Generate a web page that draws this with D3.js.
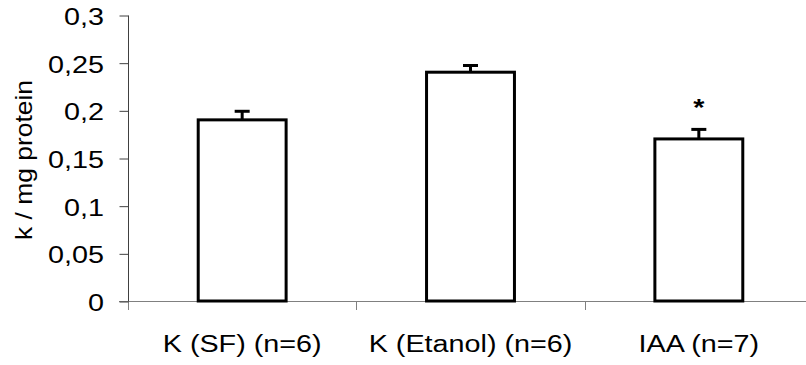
<!DOCTYPE html>
<html>
<head>
<meta charset="utf-8">
<script src="https://cdn.jsdelivr.net/npm/d3@7"></script>
<style>
  html, body { margin: 0; padding: 0; background: #fff; }
  svg { display: block; font-family: "Liberation Sans", Arial, sans-serif; }
</style>
</head>
<body>
<svg id="chart" width="806" height="365"></svg>
<script>
// data
const categories = ['K (SF) (n=6)', 'K (Etanol) (n=6)', 'IAA (n=7)'];
const means = [0.19, 0.24, 0.17];
const errors = [0.009, 0.007, 0.01];
const marks = ['', '', '*'];
const yTicks = [0, 0.05, 0.1, 0.15, 0.2, 0.25, 0.3];
const yTickLabels = ['0', '0,05', '0,1', '0,15', '0,2', '0,25', '0,3'];
const yTitle = 'k / mg protein';

const svg = d3.select('#chart');
const plot = { left: 128, right: 813, top: 15, bottom: 301 };
const stretch = 1.25; // text in the original is a bit wide

const x = d3.scaleBand()
  .domain(categories)
  .range([plot.left, plot.right])
  .paddingInner(0.615)
  .paddingOuter(0.3075);

const y = d3.scaleLinear()
  .domain([0, 0.3])
  .range([plot.bottom, plot.top]);

// x axis line + category ticks
svg.append('line')
  .attr('x1', plot.left - 9).attr('x2', 806)
  .attr('y1', y(0) + 0.5).attr('y2', y(0) + 0.5)
  .attr('stroke', '#808080').attr('stroke-width', 1);

const bounds = categories.map((c, i) => plot.left + i * x.step());
svg.selectAll('.xtick')
  .data(bounds)
  .enter().append('line')
  .attr('class', 'xtick')
  .attr('x1', d => Math.round(d) + 0.5).attr('x2', d => Math.round(d) + 0.5)
  .attr('y1', y(0)).attr('y2', y(0) + 9)
  .attr('stroke', '#808080');

// y axis
const yAxis = svg.append('g')
  .attr('transform', `translate(${plot.left + 0.5},0.5)`)
  .call(d3.axisLeft(y).tickValues(yTicks).tickSize(9).tickFormat(''));
yAxis.selectAll('line, path').attr('stroke', '#404040');
yAxis.select('.domain').attr('d', `M0,${y(0.3)}V${y(0)}`);

svg.selectAll('.ylab')
  .data(yTicks)
  .enter().append('text')
  .attr('class', 'ylab')
  .attr('transform', d => `translate(104,${y(d) + 10}) scale(${stretch},1)`)
  .attr('text-anchor', 'end')
  .attr('font-size', 23)
  .text((d, i) => yTickLabels[i]);

// y title
svg.append('text')
  .attr('transform', `translate(32,160) rotate(-90) scale(1.15,1)`)
  .attr('text-anchor', 'middle')
  .attr('font-size', 23)
  .text(yTitle);

// bars
const bw = x.bandwidth();
svg.selectAll('.bar')
  .data(categories)
  .enter().append('rect')
  .attr('class', 'bar')
  .attr('x', d => x(d))
  .attr('y', (d, i) => y(means[i]))
  .attr('width', bw)
  .attr('height', (d, i) => y(0) - y(means[i]))
  .attr('fill', '#fff')
  .attr('stroke', '#000')
  .attr('stroke-width', 3);

// error bars (upper only)
const eb = svg.selectAll('.err')
  .data(categories)
  .enter().append('g')
  .attr('class', 'err');
eb.append('line')
  .attr('x1', d => x(d) + bw / 2).attr('x2', d => x(d) + bw / 2)
  .attr('y1', (d, i) => y(means[i])).attr('y2', (d, i) => y(means[i] + errors[i]))
  .attr('stroke', '#000').attr('stroke-width', 3);
eb.append('line')
  .attr('x1', d => x(d) + bw / 2 - 7.5).attr('x2', d => x(d) + bw / 2 + 7.5)
  .attr('y1', (d, i) => y(means[i] + errors[i])).attr('y2', (d, i) => y(means[i] + errors[i]))
  .attr('stroke', '#000').attr('stroke-width', 3);

// significance marks
svg.selectAll('.mark')
  .data(categories)
  .enter().append('text')
  .attr('class', 'mark')
  .attr('transform', (d, i) => `translate(${x(d) + bw / 2},${y(means[i] + errors[i]) - 13}) scale(${stretch},1)`)
  .attr('text-anchor', 'middle')
  .attr('font-size', 23)
  .attr('font-weight', 'bold')
  .text((d, i) => marks[i]);

// category labels
svg.selectAll('.xlab')
  .data(categories)
  .enter().append('text')
  .attr('class', 'xlab')
  .attr('transform', d => `translate(${x(d) + bw / 2},352) scale(${stretch},1)`)
  .attr('text-anchor', 'middle')
  .attr('font-size', 23)
  .text(d => d);
</script>
</body>
</html>
